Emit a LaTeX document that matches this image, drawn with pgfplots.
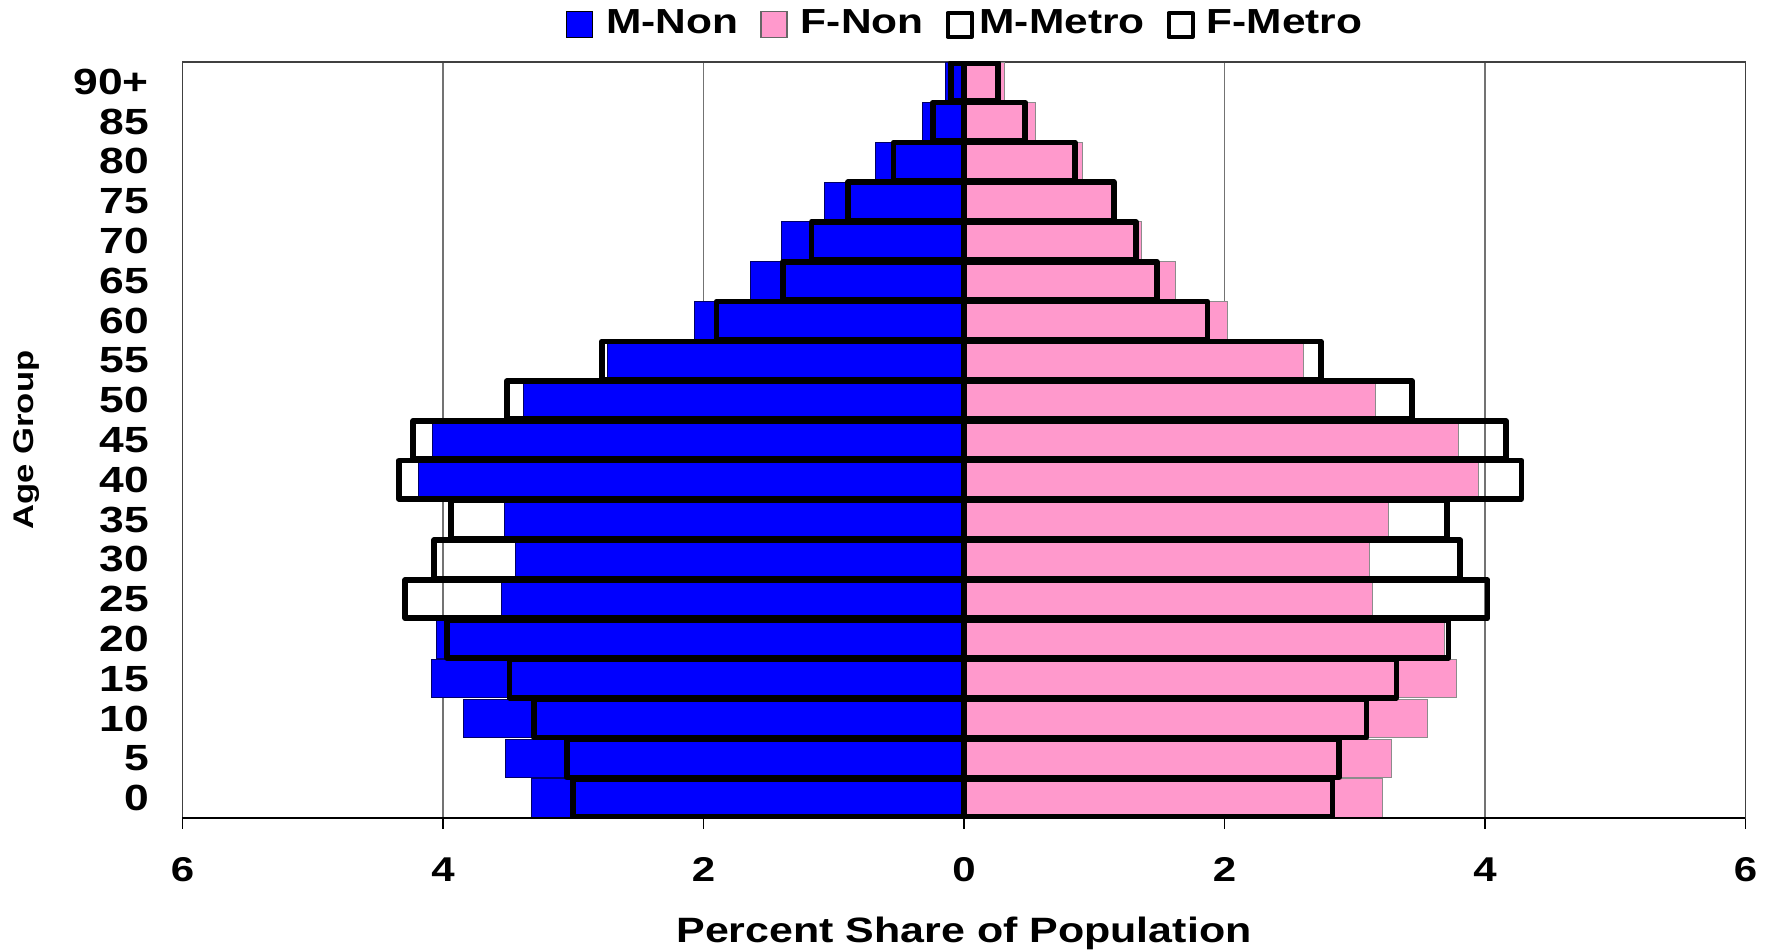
\documentclass[border=0pt]{standalone}
\usepackage{fontspec}
\setmainfont{Liberation Sans}[FakeStretch=1.22]
\usepackage{pgfplots}
\pgfplotsset{compat=1.18}
\definecolor{mblue}{RGB}{0,0,255}
\definecolor{fpink}{RGB}{255,153,204}
\newcommand{\tickfont}{\bfseries\fontsize{8.6}{10}\selectfont}
\newcommand{\ytickfont}{\bfseries\fontsize{9.1}{10}\selectfont}
\begin{document}
\begin{tikzpicture}
\useasboundingbox (-45.625pt,-33pt) rectangle (396.625pt,204.5pt);
\begin{axis}[
  at={(0pt,0pt)}, anchor=south west,
  scale only axis, width=390.75pt, height=189pt,
  xmin=-6, xmax=6, ymin=-0.5, ymax=18.5,
  xtick={-6,-4,-2,0,2,4,6}, xticklabels={6,4,2,0,2,4,6},
  ytick={0,...,18},
  yticklabels={0,5,10,15,20,25,30,35,40,45,50,55,60,65,70,75,80,85,90+},
  xtick pos=left,
  tick align=outside,
  major tick length=2.7pt,
  xtick style={black, line width=0.4pt},
  ytick style={draw=none},
  xmajorgrids,
  major grid style={black!55, line width=0.3pt},
  axis line style={black!75, line width=0.45pt},
  xticklabel style={font=\tickfont, inner sep=0pt, anchor=north, yshift=-7.05pt},
  yticklabel style={font=\ytickfont, inner sep=0pt, anchor=east, xshift=-5.5pt},
  every axis x label/.style={at={(axis description cs:0.5,-0.1296)}, anchor=north, inner sep=0pt, font=\bfseries\fontsize{8.8}{10}\selectfont},
  every axis y label/.style={at={(axis description cs:-0.0912,0.5)}, rotate=90, anchor=south, inner sep=0pt, font=\bfseries\fontsize{7.1}{9}\selectfont},
  xlabel={Percent Share of Population},
  ylabel={Age Group},
  legend columns=4,
  legend cell align=left,
  legend style={at={(axis description cs:0.5,1.0491)}, anchor=center, draw=none, fill=none, font=\bfseries\fontsize{8.7}{10}\selectfont, column sep=0pt, nodes={inner sep=0pt}},
  after end axis/.code={\draw[black, line width=0.5pt] (rel axis cs:0,0) -- (rel axis cs:1,0);},
]
\addplot[xbar, bar shift=0pt, bar width=0.96, fill=mblue, draw=black!60!blue, line width=0.25pt,
  legend image code/.code={\draw[fill=mblue,draw=black,line width=0.3pt] (0pt,-3.25pt) rectangle (6.5pt,3.25pt); \path[draw=none,fill=none] (0pt,0pt) -- (10pt,0pt);}]
 coordinates {(-3.32,0) (-3.52,1) (-3.84,2) (-4.09,3) (-4.05,4) (-3.55,5) (-3.44,6) (-3.53,7) (-4.19,8) (-4.08,9) (-3.38,10) (-2.74,11) (-2.07,12) (-1.64,13) (-1.40,14) (-1.07,15) (-0.68,16) (-0.32,17) (-0.14,18)};
\addlegendentry{M-Non\hspace*{5.5pt}}
\addplot[xbar, bar shift=0pt, bar width=0.96, fill=fpink, draw=black!45, line width=0.25pt,
  legend image code/.code={\draw[fill=fpink,draw=black!60,line width=0.3pt] (0pt,-3.25pt) rectangle (6.5pt,3.25pt); \path[draw=none,fill=none] (0pt,0pt) -- (10pt,0pt);}]
 coordinates {(3.21,0) (3.28,1) (3.56,2) (3.78,3) (3.69,4) (3.14,5) (3.11,6) (3.26,7) (3.95,8) (3.80,9) (3.16,10) (2.61,11) (2.02,12) (1.62,13) (1.36,14) (1.13,15) (0.91,16) (0.55,17) (0.31,18)};
\addlegendentry{F-Non\hspace*{5.5pt}}
\addplot[xbar, bar shift=0pt, bar width=0.96, fill=none, draw=black, line width=1.4pt, line join=round,
  legend image code/.code={\draw[fill=white,draw=black,line width=1pt] (0.5pt,-3pt) rectangle (6.5pt,3pt); \path[draw=none,fill=none] (0pt,0pt) -- (8.5pt,0pt);}]
 coordinates {(-3.00,0) (-3.05,1) (-3.30,2) (-3.49,3) (-3.97,4) (-4.29,5) (-4.07,6) (-3.94,7) (-4.34,8) (-4.23,9) (-3.51,10) (-2.78,11) (-1.90,12) (-1.39,13) (-1.17,14) (-0.89,15) (-0.54,16) (-0.24,17) (-0.10,18)};
\addlegendentry{M-Metro\hspace*{5.5pt}}
\addplot[xbar, bar shift=0pt, bar width=0.96, fill=none, draw=black, line width=1.4pt, line join=round,
  legend image code/.code={\draw[fill=white,draw=black,line width=1pt] (0.5pt,-3pt) rectangle (6.5pt,3pt); \path[draw=none,fill=none] (0pt,0pt) -- (10pt,0pt);}]
 coordinates {(2.83,0) (2.88,1) (3.09,2) (3.32,3) (3.72,4) (4.02,5) (3.81,6) (3.71,7) (4.28,8) (4.16,9) (3.44,10) (2.74,11) (1.87,12) (1.48,13) (1.32,14) (1.15,15) (0.85,16) (0.47,17) (0.26,18)};
\addlegendentry{F-Metro}
\end{axis}
\end{tikzpicture}
\end{document}
